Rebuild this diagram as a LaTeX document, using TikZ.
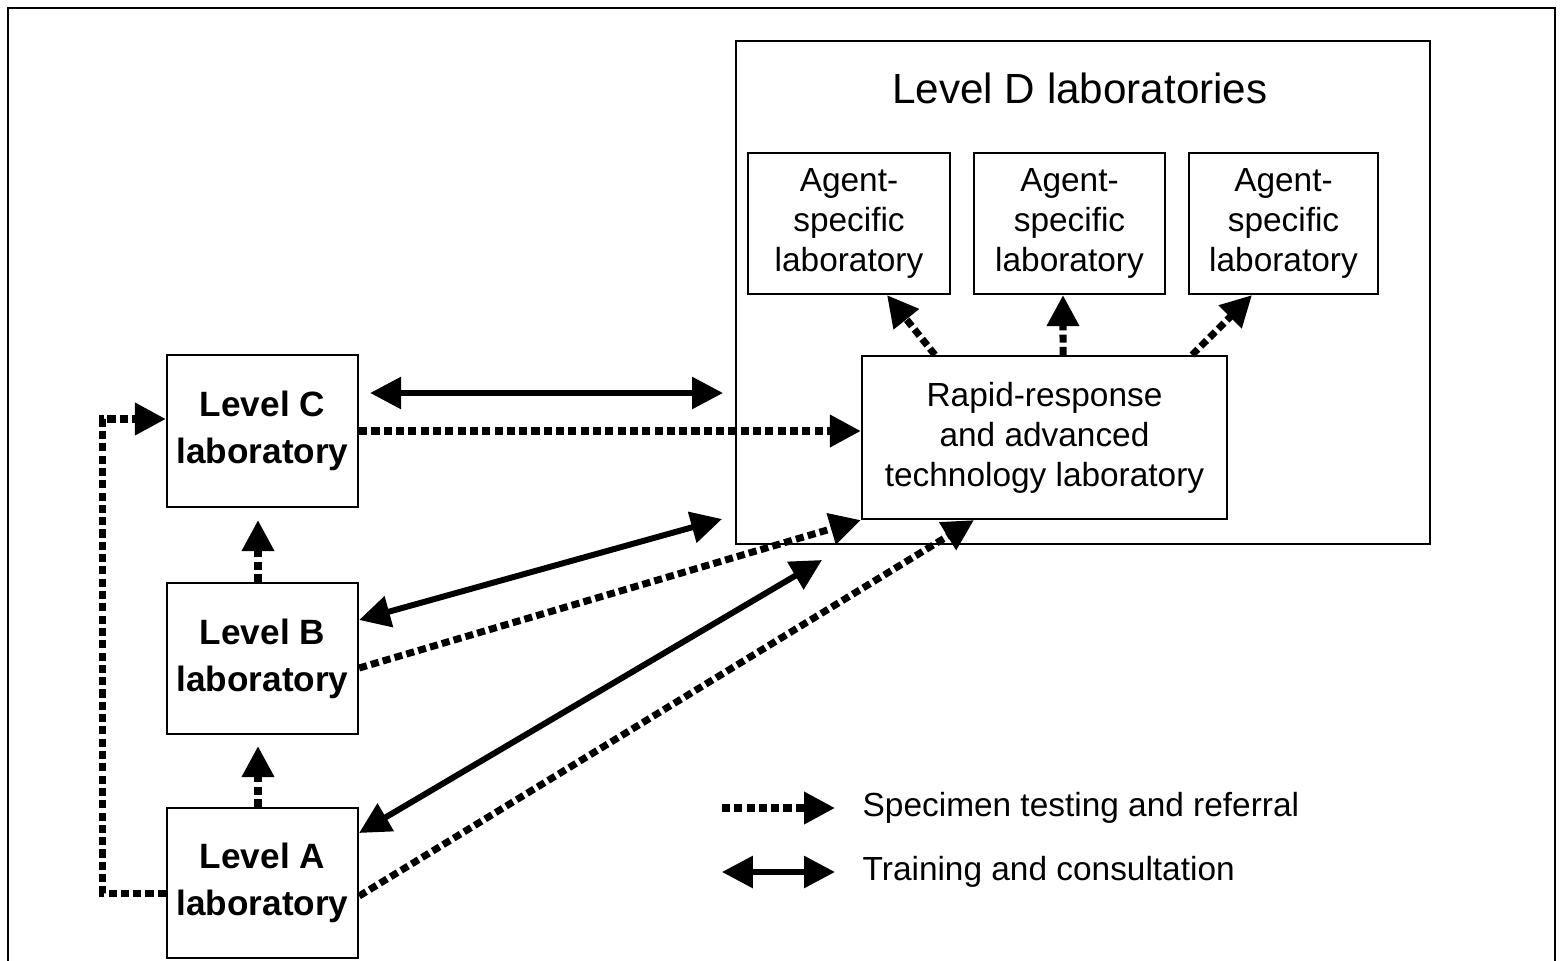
\documentclass[tikz,border=0pt]{standalone}
\usepackage{fontspec}
\setmainfont{Liberation Sans}
\usepackage{tikz}
\usetikzlibrary{arrows.meta}

\tikzset{
  box/.style={draw, line width=0.6pt, inner sep=0pt, align=center},
  lvlbox/.style={box, minimum width=1.91cm, font=\fontsize{10}{13.4}\selectfont\bfseries},
  labbox/.style={box, minimum height=1.41cm, font=\fontsize{9.5}{11.4}\selectfont},
  refer/.style={line width=2pt, dash pattern=on 2.3pt off 1.2pt, -{Triangle[length=8.8pt,width=8.8pt]}},
  train/.style={line width=1.7pt, {Triangle[length=8.8pt,width=8.8pt]}-{Triangle[length=8.8pt,width=8.8pt]}},
  legtext/.style={anchor=west, inner sep=0pt, font=\fontsize{9.5}{11.4}\selectfont}
}

\begin{document}
\begin{tikzpicture}[x=0.01cm, y=-0.01cm]

\useasboundingbox (0,0) rectangle (1560,960);
\draw [line width=0.8pt] (8,965) -- (8,8) -- (1555,8) -- (1555,965);

% level D group
\node [box, minimum width=6.94cm, minimum height=5.03cm] (levelD) at (1083,292.5) {};
\node at (1080,88) [font=\fontsize{12}{14}\selectfont] (titleD) {Level D laboratories};

\node at (849,223.5) [labbox, minimum width=2.02cm] (agentA) {Agent-\\specific\\laboratory};
\node at (1069.5,223.5) [labbox, minimum width=1.91cm] (agentB) {Agent-\\specific\\laboratory};
\node at (1283.5,223.5) [labbox, minimum width=1.89cm] (agentC) {Agent-\\specific\\laboratory};

\node at (1044.5,437.5) [labbox, minimum width=3.65cm, minimum height=1.63cm] (rapid)
  {Rapid-response\\and advanced\\technology laboratory};

% levels A to C
\node at (262.5,431) [lvlbox, minimum height=1.52cm] (levelC) {Level C\\laboratory};
\node at (262.5,658.5) [lvlbox, minimum height=1.51cm] (levelB) {Level B\\laboratory};
\node at (262.5,883) [lvlbox, minimum height=1.50cm] (levelA) {Level A\\laboratory};

\coordinate (trainC) at (723,393);
\coordinate (trainB) at (722,519);
\coordinate (trainA) at (822,560);

\draw [train] ([xshift=1.1mm, yshift=3.8mm]levelC.east) -- (trainC);
\draw [train] ([yshift=3.85mm]levelB.east) -- (trainB);
\draw [train] ([yshift=5mm]levelA.east) -- (trainA);

\draw [refer] (levelC.east) -- (rapid.west |- levelC.east);
\draw [refer] ([yshift=-0.95mm]levelB.east) -- (rapid.south west);
\draw [refer] ([yshift=-1.3mm]levelA.east) -- ([xshift=-7.05mm]rapid.south);

\draw [refer] ([xshift=-0.45mm]levelB.north) -- ([xshift=-0.45mm, yshift=-1.2mm]levelC.south);
\draw [refer] ([xshift=-0.45mm]levelA.north) -- ([xshift=-0.45mm, yshift=-1.1mm]levelB.south);
\draw [refer] ([yshift=-1mm]levelA.west) -- ++(-63,0) |- ([yshift=1.2mm]levelC.west);

\draw [refer] ([xshift=-10.95mm]rapid.north) -- ([xshift=3.8mm]agentA.south);
\draw [refer] ([xshift=1.85mm]rapid.north) -- ([xshift=-0.65mm]agentB.south);
\draw [refer] ([xshift=14.75mm]rapid.north) -- ([xshift=-3.15mm]agentC.south);

% legend
\node at (862,808) [legtext] (legRefer) {Specimen testing and referral};
\node at (862,872) [legtext] (legTrain) {Training and consultation};
\draw [refer] ([xshift=-14mm]legRefer.west) -- ([xshift=-2.7mm]legRefer.west);
\draw [train] ([xshift=-14mm]legTrain.west) -- ([xshift=-2.7mm]legTrain.west);

\end{tikzpicture}
\end{document}
